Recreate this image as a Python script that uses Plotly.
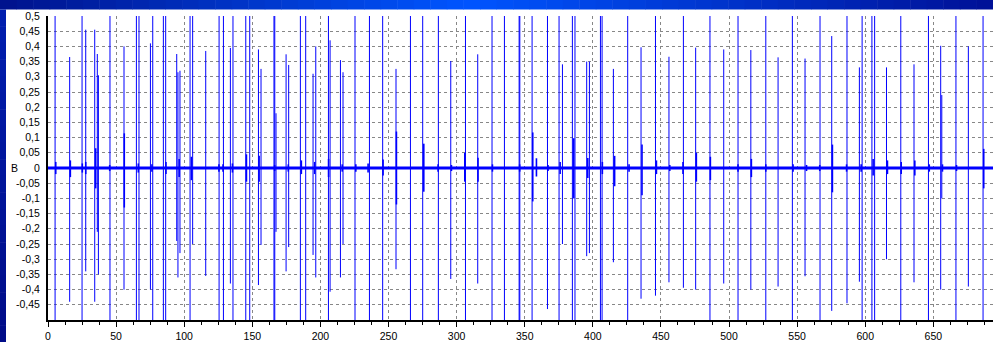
import plotly.graph_objects as go

# ---------------- data ----------------
FULL = 0.5
spike_x = [5.2, 15.9, 25.0, 27.7, 34.3, 36.2, 37.0, 45.5, 55.8, 64.9, 66.8, 75.2, 76.9, 84.7, 86.4,
           94.5, 95.4, 96.9, 104.3, 106.2, 115.8, 125.6, 128.8, 133.9, 135.8,
           145.2, 148.1, 154.5, 156.4, 165.9, 166.5, 167.4, 174.8, 176.7, 185.3, 189.2, 194.6, 196.6,
           205.9, 207.1, 214.7, 216.6, 225.4, 236.0, 245.7, 255.5, 266.1, 275.1, 286.6, 295.7, 306.5, 315.5,
           326.0, 335.1, 345.9, 346.4, 355.4, 366.7, 375.2, 377.7, 385.0, 386.9, 395.5, 397.5, 405.6, 406.8,
           415.1, 425.6, 435.4, 446.0, 455.9, 466.5, 475.5, 486.0, 496.1, 506.6,
           516.0, 527.0, 536.0, 546.5, 555.8, 566.8, 575.4, 586.6, 595.7, 597.7, 604.9, 606.9,
           615.6, 626.1, 635.8, 646.4, 655.4, 656.2, 666.6, 675.7, 686.5]
spike_top = [FULL, 0.365, FULL, 0.455, 0.455, 0.375, 0.305, FULL, 0.40, FULL, FULL, 0.41, FULL, FULL, FULL,
             0.375, 0.315, 0.32, FULL, FULL, 0.385, FULL, FULL, 0.395, FULL,
             FULL, FULL, 0.39, 0.326, FULL, FULL, 0.18, 0.374, 0.339, FULL, FULL, 0.31, 0.40,
             FULL, 0.42, 0.355, 0.315, FULL, FULL, FULL, 0.326, FULL, FULL, FULL, 0.352, FULL, 0.374,
             FULL, FULL, FULL, FULL, FULL, FULL, FULL, 0.341, FULL, FULL, 0.35, 0.35, FULL, FULL,
             0.326, FULL, 0.397, FULL, 0.366, FULL, 0.396, FULL, 0.39, FULL,
             0.388, FULL, 0.364, FULL, 0.36, FULL, 0.434, FULL, 0.331, FULL, FULL, FULL,
             0.331, FULL, 0.341, FULL, 0.402, 0.24, FULL, 0.40, FULL]
spike_bottom = [-FULL, -0.44, -FULL, -0.34, -0.44, -0.21, -0.35, -FULL, -0.40, -FULL, -FULL, -0.40, -FULL, -FULL, -FULL,
                -0.24, -0.36, -0.28, -FULL, -0.25, -0.355, -FULL, -FULL, -0.38, -FULL,
                -FULL, -FULL, -0.385, -0.253, -FULL, -FULL, -0.21, -0.34, -0.26, -FULL, -FULL, -0.286, -0.36,
                -FULL, -0.407, -0.36, -0.25, -FULL, -FULL, -FULL, -0.333, -FULL, -FULL, -FULL, -0.365, -FULL, -0.38,
                -FULL, -FULL, -FULL, -FULL, -FULL, -0.464, -FULL, -0.25, -FULL, -FULL, -0.29, -0.28, -FULL, -FULL,
                -0.31, -FULL, -0.43, -0.42, -0.376, -0.394, -0.40, -FULL, -0.38, -FULL,
                -0.40, -FULL, -0.39, -FULL, -0.356, -FULL, -0.47, -0.445, -0.374, -FULL, -FULL, -FULL,
                -0.30, -FULL, -0.376, -FULL, -0.40, -0.10, -FULL, -0.39, -FULL]

burst_x = [5.7, 16.4, 25.2, 27.7, 35.0, 45.3, 56.0, 66.3, 76.3, 86.6, 96.3, 105.3, 125.5, 128.5, 135.4,
           145.7, 155.0, 166.4, 176.4, 186.0, 195.8, 206.0, 216.0, 226.0, 235.0, 246.0, 255.8, 275.9,
           286.4, 296.2, 306.0, 315.7, 326.3, 346.3, 355.9, 358.6, 367.1, 376.0, 386.0, 396.3, 407.0,
           416.0, 426.6, 436.1, 446.7, 456.5, 466.2, 476.0, 486.3, 506.6, 516.4, 527.0, 547.0, 556.9,
           566.6, 575.9, 586.3, 597.0, 605.8, 616.3, 626.4, 636.4, 647.0, 656.7, 667.0, 687.0]
burst_top = [0.02, 0.025, 0.015, 0.02, 0.065, 0.01, 0.114, 0.015, 0.012, 0.02, 0.03, 0.037, 0.012, 0.012, 0.015,
             0.045, 0.04, 0.01, 0.012, 0.025, 0.02, 0.03, 0.012, 0.012, 0.015, 0.028, 0.12, 0.08,
             0.012, 0.01, 0.05, 0.034, 0.012, 0.012, 0.117, 0.032, 0.01, 0.02, 0.098, 0.033, 0.02,
             0.04, 0.012, 0.077, 0.025, 0.01, 0.02, 0.05, 0.037, 0.012, 0.03, 0.012, 0.012, 0.01,
             0.01, 0.077, 0.012, 0.012, 0.03, 0.025, 0.02, 0.025, 0.012, 0.012, 0.01, 0.063]
burst_bottom = [-0.02, -0.03, -0.015, -0.02, -0.067, -0.01, -0.13, -0.015, -0.012, -0.02, -0.03, -0.04, -0.012, -0.012, -0.015,
                -0.045, -0.045, -0.01, -0.012, -0.02, -0.02, -0.03, -0.012, -0.012, -0.015, -0.025, -0.12, -0.078,
                -0.012, -0.01, -0.045, -0.045, -0.012, -0.012, -0.11, -0.028, -0.01, -0.02, -0.10, -0.033, -0.02,
                -0.06, -0.012, -0.09, -0.02, -0.01, -0.02, -0.045, -0.04, -0.012, -0.03, -0.012, -0.012, -0.01,
                -0.01, -0.08, -0.012, -0.012, -0.025, -0.02, -0.02, -0.025, -0.012, -0.012, -0.01, -0.067]

baseline_x = [0, 693.8]
baseline_y = [0, 0]

x_range = [0, 693.8]
x_ticks = [0, 50, 100, 150, 200, 250, 300, 350, 400, 450, 500, 550, 600, 650]
y_ticks = [0.5, 0.45, 0.4, 0.35, 0.3, 0.25, 0.2, 0.15, 0.1, 0.05, 0.0,
           -0.05, -0.1, -0.15, -0.2, -0.25, -0.3, -0.35, -0.4, -0.45]
y_tick_labels = ["0,5", "0,45", "0,4", "0,35", "0,3", "0,25", "0,2", "0,15", "0,1", "0,05", "0",
                 "-0,05", "-0,1", "-0,15", "-0,2", "-0,25", "-0,3", "-0,35", "-0,4", "-0,45"]
y_title = "B"

BLUE = "rgb(0,0,255)"
FONT = "Liberation Sans"
GRID = "rgb(135,135,135)"


def segments(xs, tops, bottoms):
    sx, sy = [], []
    for x, t, b in zip(xs, tops, bottoms):
        sx += [x, x, None]
        sy += [b, t, None]
    return sx, sy


fig = go.Figure()
fig.add_trace(go.Scatter(x=baseline_x, y=baseline_y, mode="lines",
                         line=dict(color=BLUE, width=3.2), hoverinfo="skip", showlegend=False))
bx, by = segments(burst_x, burst_top, burst_bottom)
fig.add_trace(go.Scatter(x=bx, y=by, mode="lines", line=dict(color=BLUE, width=1.6),
                         hoverinfo="skip", showlegend=False))
sx, sy = segments(spike_x, spike_top, spike_bottom)
fig.add_trace(go.Scatter(x=sx, y=sy, mode="lines", line=dict(color=BLUE, width=1),
                         hoverinfo="skip", showlegend=False))

# ---------------- frame (blue gradient bands) ----------------
W, H = 993, 342
L, R, T, B = 48, 0, 16, 22
pw, ph = W - L - R, H - T - B


def px2paper_x(px):
    return (px - L) / pw


def py2paper_y(py):
    return (H - B - py) / ph


def lerp(c1, c2, t):
    return tuple(round(a + (b - a) * t) for a, b in zip(c1, c2))


shapes = []
top_h = 9.5
left_w = 6
n = 60
c_dark_l = (0, 18, 140)
c_bright = (0, 85, 255)
c_dark_r = (0, 16, 150)
for i in range(n):
    x0 = W * i / n
    x1 = W * (i + 1) / n + 0.5
    f = (i + 0.5) / n
    if f < 0.47:
        c = lerp(c_dark_l, c_bright, f / 0.47)
    else:
        c = lerp(c_bright, c_dark_r, (f - 0.47) / 0.53)
    shapes.append(dict(type="rect", xref="paper", yref="paper", layer="below",
                       x0=px2paper_x(x0), x1=px2paper_x(x1),
                       y0=py2paper_y(0), y1=py2paper_y(top_h),
                       fillcolor="rgb(%d,%d,%d)" % c, line=dict(width=0)))
m = 20
c_lt = (0, 30, 175)
c_lb = (0, 12, 135)
for i in range(m):
    y0 = top_h + (H - top_h) * i / m
    y1 = top_h + (H - top_h) * (i + 1) / m + 0.5
    c = lerp(c_lt, c_lb, (i + 0.5) / m)
    shapes.append(dict(type="rect", xref="paper", yref="paper", layer="below",
                       x0=px2paper_x(0), x1=px2paper_x(left_w),
                       y0=py2paper_y(y0), y1=py2paper_y(y1),
                       fillcolor="rgb(%d,%d,%d)" % c, line=dict(width=0)))

fig.update_layout(
    width=W, height=H, autosize=False,
    margin=dict(l=L, r=R, t=T, b=B, pad=0),
    paper_bgcolor="white", plot_bgcolor="white",
    font=dict(family=FONT, size=10.5, color="black"),
    shapes=shapes,
    showlegend=False,
    annotations=[dict(text=y_title, xref="paper", yref="paper",
                      x=px2paper_x(14), y=0.5, xanchor="center", yanchor="middle",
                      showarrow=False, font=dict(family=FONT, size=10.5, color="black"))],
)
fig.update_xaxes(range=x_range, tickvals=x_ticks, ticktext=[str(v) for v in x_ticks],
                 showgrid=True, gridcolor=GRID, gridwidth=1, griddash="3px,3px",
                 showline=True, linecolor="black", linewidth=2,
                 ticks="outside", ticklen=5, tickcolor="black", tickwidth=1,
                 minor=dict(dtick=12.5, tick0=0, ticks="outside", ticklen=3, tickcolor="black",
                            showgrid=False),
                 zeroline=False, tickfont=dict(family=FONT, size=10.5, color="black"))
fig.update_yaxes(range=[-0.5, 0.5], tickvals=y_ticks, ticktext=y_tick_labels,
                 showgrid=True, gridcolor=GRID, gridwidth=1, griddash="3px,3px",
                 showline=True, linecolor="black", linewidth=2,
                 ticks="", ticklabelstandoff=4,
                 zeroline=False, tickfont=dict(family=FONT, size=10.5, color="black"))

fig.write_html("out.html")
